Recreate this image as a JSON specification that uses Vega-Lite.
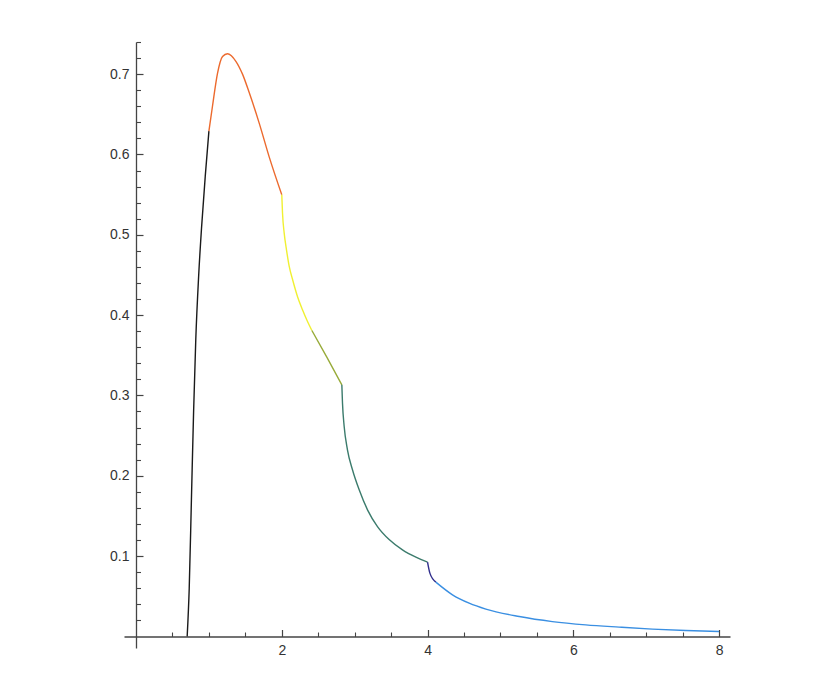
{
  "$schema": "https://vega.github.io/schema/vega-lite/v6.json",
  "width": 606,
  "height": 606,
  "autosize": {"type": "none"},
  "padding": {"left": 124, "top": 42, "right": 110, "bottom": 49},
  "background": "white",
  "config": {"view": {"stroke": null}},
  "data": {
    "values": [
      {"x": 0.702, "y": 0.0, "seg": "s1"},
      {"x": 0.73, "y": 0.06, "seg": "s1"},
      {"x": 0.76, "y": 0.17, "seg": "s1"},
      {"x": 0.79, "y": 0.28, "seg": "s1"},
      {"x": 0.82, "y": 0.37, "seg": "s1"},
      {"x": 0.86, "y": 0.45, "seg": "s1"},
      {"x": 0.90, "y": 0.51, "seg": "s1"},
      {"x": 0.95, "y": 0.573, "seg": "s1"},
      {"x": 1.0, "y": 0.629, "seg": "s1"},
      {"x": 1.0, "y": 0.629, "seg": "s2"},
      {"x": 1.049, "y": 0.660, "seg": "s2"},
      {"x": 1.118, "y": 0.701, "seg": "s2"},
      {"x": 1.187, "y": 0.722, "seg": "s2"},
      {"x": 1.255, "y": 0.7254, "seg": "s2"},
      {"x": 1.370, "y": 0.716, "seg": "s2"},
      {"x": 1.461, "y": 0.700, "seg": "s2"},
      {"x": 1.553, "y": 0.677, "seg": "s2"},
      {"x": 1.690, "y": 0.639, "seg": "s2"},
      {"x": 1.827, "y": 0.597, "seg": "s2"},
      {"x": 2.0, "y": 0.5498, "seg": "s2"},
      {"x": 2.0, "y": 0.5498, "seg": "s3"},
      {"x": 2.010, "y": 0.527, "seg": "s3"},
      {"x": 2.033, "y": 0.502, "seg": "s3"},
      {"x": 2.065, "y": 0.481, "seg": "s3"},
      {"x": 2.102, "y": 0.4605, "seg": "s3"},
      {"x": 2.147, "y": 0.4446, "seg": "s3"},
      {"x": 2.215, "y": 0.4232, "seg": "s3"},
      {"x": 2.284, "y": 0.4066, "seg": "s3"},
      {"x": 2.353, "y": 0.392, "seg": "s3"},
      {"x": 2.413, "y": 0.3808, "seg": "s3"},
      {"x": 2.413, "y": 0.3808, "seg": "s4"},
      {"x": 2.616, "y": 0.348, "seg": "s4"},
      {"x": 2.824, "y": 0.3132, "seg": "s4"},
      {"x": 2.824, "y": 0.3132, "seg": "s5"},
      {"x": 2.833, "y": 0.2904, "seg": "s5"},
      {"x": 2.856, "y": 0.2613, "seg": "s5"},
      {"x": 2.901, "y": 0.2323, "seg": "s5"},
      {"x": 2.970, "y": 0.2074, "seg": "s5"},
      {"x": 3.062, "y": 0.1824, "seg": "s5"},
      {"x": 3.176, "y": 0.1575, "seg": "s5"},
      {"x": 3.313, "y": 0.1367, "seg": "s5"},
      {"x": 3.473, "y": 0.1205, "seg": "s5"},
      {"x": 3.656, "y": 0.1077, "seg": "s5"},
      {"x": 3.840, "y": 0.0986, "seg": "s5"},
      {"x": 4.0, "y": 0.0924, "seg": "s5"},
      {"x": 4.0, "y": 0.0924, "seg": "s6"},
      {"x": 4.032, "y": 0.0787, "seg": "s6"},
      {"x": 4.114, "y": 0.0675, "seg": "s6"},
      {"x": 4.114, "y": 0.0675, "seg": "s7"},
      {"x": 4.342, "y": 0.0517, "seg": "s7"},
      {"x": 4.571, "y": 0.0413, "seg": "s7"},
      {"x": 4.800, "y": 0.0339, "seg": "s7"},
      {"x": 5.258, "y": 0.0247, "seg": "s7"},
      {"x": 5.713, "y": 0.0184, "seg": "s7"},
      {"x": 6.171, "y": 0.0143, "seg": "s7"},
      {"x": 6.628, "y": 0.0115, "seg": "s7"},
      {"x": 7.085, "y": 0.0090, "seg": "s7"},
      {"x": 7.543, "y": 0.0072, "seg": "s7"},
      {"x": 8.0, "y": 0.0060, "seg": "s7"}
    ]
  },
  "layer": [
    {
      "mark": {"type": "line", "opacity": 0},
      "encoding": {
        "x": {
          "field": "x", "type": "quantitative",
          "scale": {"domain": [-0.165, 8.15], "nice": false, "zero": false},
          "axis": {
            "orient": "bottom", "offset": -11.5, "title": null, "grid": false,
            "domain": false, "labels": false,
            "values": [0.5, 1, 1.5, 2.5, 3, 3.5, 4.5, 5, 5.5, 6.5, 7, 7.5],
            "tickSize": -4.5, "tickColor": "#444444", "tickWidth": 1.1
          }
        },
        "y": {
          "field": "y", "type": "quantitative",
          "scale": {"domain": [-0.0145, 0.74], "nice": false, "zero": false},
          "axis": {
            "orient": "left", "offset": -12, "title": null, "grid": false,
            "domain": false, "labels": false,
            "values": [0.02, 0.04, 0.06, 0.08, 0.12, 0.14, 0.16, 0.18, 0.22, 0.24, 0.26, 0.28, 0.32, 0.34, 0.36, 0.38, 0.42, 0.44, 0.46, 0.48, 0.52, 0.54, 0.56, 0.58, 0.62, 0.64, 0.66, 0.68, 0.72, 0.74],
            "tickSize": -4.5, "tickColor": "#444444", "tickWidth": 1.1
          }
        },
        "detail": {"field": "seg", "type": "nominal"}
      }
    },
    {
      "mark": {"type": "line", "strokeWidth": 1.4, "interpolate": "monotone"},
      "encoding": {
        "x": {
          "field": "x", "type": "quantitative",
          "scale": {"domain": [-0.165, 8.15], "nice": false, "zero": false},
          "axis": {
            "orient": "bottom", "offset": -11.5, "title": null, "grid": false,
            "values": [2, 4, 6, 8], "format": "d",
            "domainColor": "#444444", "domainWidth": 1.3,
            "tickSize": -7, "tickColor": "#444444", "tickWidth": 1.2,
            "labelPadding": 14, "labelFont": "Liberation Sans", "labelFontSize": 14,
            "labelColor": "#333333", "labelFlush": false, "labelOverlap": false
          }
        },
        "y": {
          "field": "y", "type": "quantitative",
          "scale": {"domain": [-0.0145, 0.74], "nice": false, "zero": false},
          "axis": {
            "orient": "left", "offset": -12, "title": null, "grid": false,
            "values": [0.1, 0.2, 0.3, 0.4, 0.5, 0.6, 0.7], "format": ".1f",
            "domainColor": "#444444", "domainWidth": 1.3,
            "tickSize": -7, "tickColor": "#444444", "tickWidth": 1.2,
            "labelPadding": 14, "labelFont": "Liberation Sans", "labelFontSize": 14,
            "labelColor": "#333333", "labelFlush": false, "labelOverlap": false
          }
        },
        "color": {
          "field": "seg", "type": "nominal",
          "scale": {
            "domain": ["s1", "s2", "s3", "s4", "s5", "s6", "s7"],
            "range": ["#1a1a1a", "#ec6a2e", "#f0f032", "#98ab3a", "#3b7b6c", "#302e8c", "#3a8fe2"]
          },
          "legend": null
        }
      }
    }
  ],
  "resolve": {"axis": {"x": "independent", "y": "independent"}}
}
